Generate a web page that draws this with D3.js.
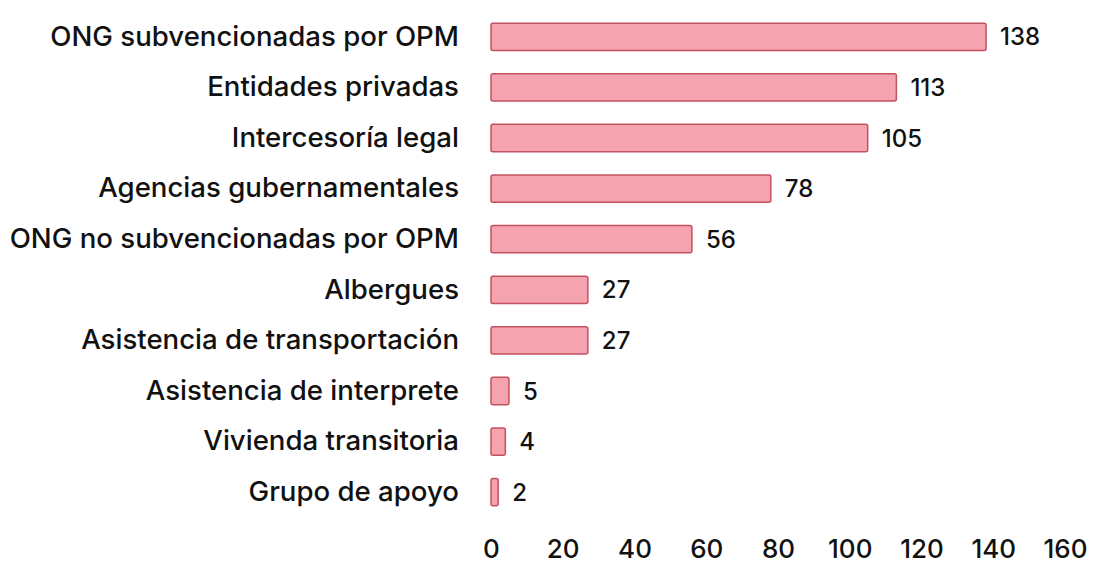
<!DOCTYPE html>
<html lang="es">
<head>
<meta charset="UTF-8">
<title>Servicios referidos</title>
<style>
    body { margin: 0; padding: 0; background: #fff; }
    svg text { font-family: Inter, "Noto Sans", sans-serif; fill: #111; }
</style>
</head>
<body>
<div id="chart"></div>
<script src="https://cdn.jsdelivr.net/npm/d3@7"></script>
<script>
    // datos
    const categories = [
        "ONG subvencionadas por OPM",
        "Entidades privadas",
        "Intercesoría legal",
        "Agencias gubernamentales",
        "ONG no subvencionadas por OPM",
        "Albergues",
        "Asistencia de transportación",
        "Asistencia de interprete",
        "Vivienda transitoria",
        "Grupo de apoyo"
    ]
    const values = [138, 113, 105, 78, 56, 27, 27, 5, 4, 2]
    const xTicks = [0, 20, 40, 60, 80, 100, 120, 140, 160]

    const w = 1093
    const h = 574

    const svg = d3.select("#chart").append("svg")
        .attr("width", w)
        .attr("height", h)

    const x = d3.scaleLinear().domain([0, 160]).range([491, 1065])
    const y = d3.scaleBand().domain(categories).range([11.5, 517.5]).paddingInner(0.46).paddingOuter(0.23)

    svg.selectAll("rect.bar")
        .data(values)
        .enter()
        .append("rect")
        .attr("class", "bar")
        .attr("x", x(0))
        .attr("y", (d, i) => y(categories[i]))
        .attr("width", d => x(d) - x(0))
        .attr("height", y.bandwidth())
        .attr("rx", 2)
        .attr("fill", "#f5a3ae")
        .attr("stroke", "#c2525f")
        .attr("stroke-width", 1.5)

    // etiquetas de valor
    svg.selectAll("text.val")
        .data(values)
        .enter()
        .append("text")
        .attr("class", "val")
        .attr("x", d => x(d) + 14)
        .attr("y", (d, i) => y(categories[i]) + y.bandwidth() / 2)
        .attr("dy", "0.36em")
        .style("font-size", "24px")
        .style("font-weight", 500)
        .text(d => d)

    // eje y (categorías)
    const yAxis = d3.axisLeft(y).tickSize(0).tickPadding(0)
    const gy = svg.append("g")
        .attr("transform", "translate(459,0)")
        .call(yAxis)
    gy.select(".domain").remove()
    gy.selectAll("text").style("font-size", "27.6px").style("font-weight", 500).attr("fill", "#111")

    // eje x
    const xAxis = d3.axisBottom(x).tickValues(xTicks).tickSize(0).tickPadding(0)
    const gx = svg.append("g")
        .attr("transform", "translate(0,540)")
        .call(xAxis)
    gx.select(".domain").remove()
    gx.selectAll("text").style("font-size", "26px").style("font-weight", 500).attr("fill", "#111")
</script>
</body>
</html>
